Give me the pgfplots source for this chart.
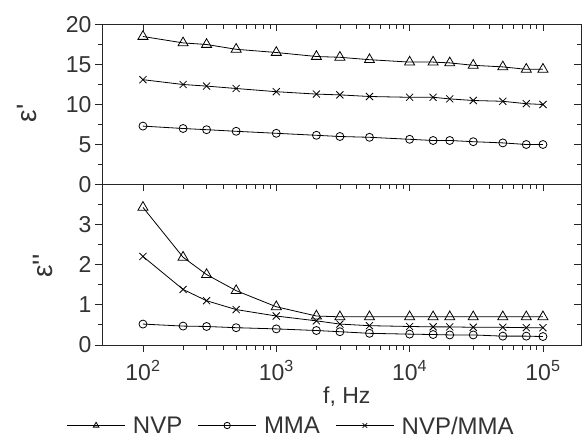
\documentclass[border=0pt]{standalone}
\usepackage{fontspec}
\setmainfont{Liberation Sans}[Ligatures=TeXOff]
\usepackage{pgfplots}
\usepackage{pgfplotstable}
\pgfplotsset{compat=1.18}

\pgfplotstableread{
f      nvp   mma   nm
100    18.5  7.3   13.1
200    17.7  7.0   12.5
300    17.5  6.85  12.3
500    16.9  6.65  12.0
1000   16.5  6.4   11.6
2000   16.0  6.15  11.3
3000   15.9  6.0   11.2
5000   15.6  5.9   11.0
10000  15.3  5.65  10.9
15000  15.3  5.5   10.9
20000  15.2  5.5   10.7
30000  14.9  5.35  10.5
50000  14.7  5.2   10.4
75000  14.4  5.0   10.1
100000 14.4  5.0   10.0
}\epsone

\pgfplotstableread{
f      nvp   mma   nm
100    3.42  0.52  2.20
200    2.18  0.47  1.38
300    1.75  0.46  1.10
500    1.35  0.43  0.88
1000   0.95  0.40  0.72
2000   0.72  0.36  0.60
3000   0.70  0.33  0.52
5000   0.70  0.29  0.48
10000  0.70  0.27  0.46
15000  0.70  0.26  0.45
20000  0.70  0.25  0.45
30000  0.70  0.25  0.44
50000  0.70  0.22  0.44
75000  0.70  0.22  0.43
100000 0.70  0.21  0.43
}\epstwo

\definecolor{txt}{gray}{0.2}

\pgfplotsset{
  every axis/.append style={
    scale only axis, width=479pt,
    xmin=49.3, xmax=1.93e5, anchor=south west,
    xtick={100,1000,10000,100000},
    axis line style={line width=0.9pt, black!85},
    major tick length=7pt, minor tick length=4.5pt,
    ticklabel style={text=txt},
    label style={text=txt},
    clip=false,
  },
  every tick/.append style={line width=0.8pt, black!85},
  yticklabel style={/pgf/number format/assume math mode=true},
}
\tikzset{
  sNVP/.style={black, line width=0.8pt, mark=triangle, mark size=5.8pt, mark options={fill=white, solid, line width=0.8pt}},
  sMMA/.style={black, line width=0.8pt, mark=o, mark size=4pt, mark options={fill=white, solid, line width=0.8pt}},
  sNM/.style={black, line width=0.8pt, mark=x, mark size=5pt, mark options={solid, line width=0.8pt}},
}
\pgfplotsset{
  mylegend/.style={
    legend image code/.code={%
      \draw[##1,mark=none,line width=0.7pt] (0pt,0pt) -- (58pt,0pt);
      \draw[##1,line width=0.7pt,mark size=3.2pt] plot coordinates {(29pt,0pt)};}
  }
}

\begin{document}
\begin{tikzpicture}[font=\fontsize{23}{27}\selectfont]
\useasboundingbox (0,0) rectangle (583pt,439pt);

% ---- top panel: data, right/top ticks inside
\begin{axis}[xmode=log, at={(102pt,254.5pt)}, height=160pt,
  ymin=0, ymax=20, ytick={0,5,10,15,20}, minor ytick={2.5,7.5,12.5,17.5},
  tick align=inside, xtick pos=upper, ytick pos=right,
  xticklabels={}, yticklabels={}]
\addplot[sNVP] table[x=f,y=nvp]{\epsone};
\addplot[sMMA] table[x=f,y=mma]{\epsone};
\addplot[sNM]  table[x=f,y=nm]{\epsone};
\end{axis}
% ---- top panel: left ticks outside with labels, lower x ticks outside
\begin{axis}[xmode=log, at={(102pt,254.5pt)}, height=160pt,
  ymin=0, ymax=20, ytick={0,5,10,15,20}, minor ytick={2.5,7.5,12.5,17.5},
  tick align=outside, xtick pos=lower, ytick pos=left,
  xticklabels={},
  ylabel={ε'}, ylabel style={at={(axis description cs:-0.157,0.445)}, anchor=center, font=\fontsize{28}{30}\selectfont}]
\addplot[draw=none] coordinates {(100,1)};
\end{axis}

% ---- bottom panel: data
\begin{axis}[xmode=log, mylegend, at={(102pt,94pt)}, height=161pt,
  ymin=0, ymax=4, ytick={0,1,2,3}, minor ytick={0.5,1.5,2.5,3.5},
  tick align=inside, xtick pos=upper, ytick pos=right,
  xticklabels={}, yticklabels={},
  legend columns=3,
  legend style={draw=none, fill=none, inner sep=0pt, at={(axis description cs:-0.074,-0.50)}, anchor=west,
    font=\fontsize{24}{26}\selectfont, text=txt,
    nodes={text depth=0pt, inner sep=1.5pt},
    /tikz/every odd column/.append style={column sep=6pt},
    /tikz/every even column/.append style={column sep=14pt}}]
\addplot[sNVP] table[x=f,y=nvp]{\epstwo};
\addlegendentry{NVP}
\addplot[sMMA] table[x=f,y=mma]{\epstwo};
\addlegendentry{MMA}
\addplot[sNM]  table[x=f,y=nm]{\epstwo};
\addlegendentry{NVP/MMA}
\end{axis}
% ---- bottom panel: left ticks and bottom ticks outside with labels
\begin{axis}[xmode=log, at={(102pt,94pt)}, height=161pt,
  ymin=0, ymax=4, ytick={0,1,2,3}, minor ytick={0.5,1.5,2.5,3.5},
  tick align=outside, xtick pos=lower, ytick pos=left,
  xticklabels={10\textsuperscript{2},10\textsuperscript{3},10\textsuperscript{4},10\textsuperscript{5}},
  xticklabel style={yshift=-5pt},
  xlabel={f, Hz}, xlabel style={at={(axis description cs:0.511,-0.32)}, anchor=center},
  ylabel={ε''}, ylabel style={at={(axis description cs:-0.123,0.49)}, anchor=center, font=\fontsize{28}{30}\selectfont}]
\addplot[draw=none] coordinates {(100,1)};
\end{axis}
\end{tikzpicture}
\end{document}
